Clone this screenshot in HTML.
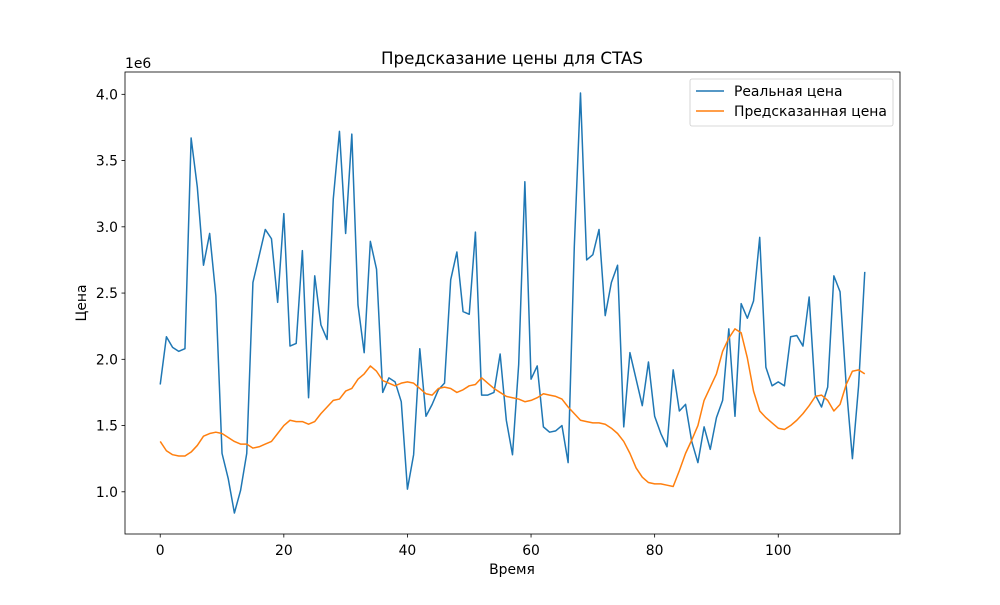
<!DOCTYPE html>
<html><head><meta charset="utf-8"><style>body{margin:0;background:#fff}svg{font-family:"DejaVu Sans","Liberation Sans",sans-serif}</style></head>
<body>
<svg id="chart" width="1000" height="600" xmlns="http://www.w3.org/2000/svg"></svg>
<script>
const realPrice=[1.81,2.17,2.09,2.06,2.08,3.67,3.30,2.71,2.95,2.48,1.29,1.10,0.84,1.01,1.29,2.58,2.78,2.98,2.91,2.43,3.10,2.10,2.12,2.82,1.71,2.63,2.26,2.15,3.21,3.72,2.95,3.70,2.41,2.05,2.89,2.68,1.75,1.86,1.83,1.68,1.02,1.28,2.08,1.57,1.66,1.77,1.82,2.60,2.81,2.36,2.34,2.96,1.73,1.73,1.75,2.04,1.54,1.28,1.96,3.34,1.85,1.95,1.49,1.45,1.46,1.50,1.22,2.85,4.01,2.75,2.79,2.98,2.33,2.58,2.71,1.49,2.05,1.85,1.65,1.98,1.57,1.44,1.34,1.92,1.61,1.66,1.38,1.22,1.49,1.32,1.56,1.69,2.23,1.57,2.42,2.31,2.44,2.92,1.94,1.80,1.83,1.80,2.17,2.18,2.10,2.47,1.73,1.64,1.79,2.63,2.51,1.80,1.25,1.80,2.66];
const predPrice=[1.38,1.31,1.28,1.27,1.27,1.30,1.35,1.42,1.44,1.45,1.44,1.41,1.38,1.36,1.36,1.33,1.34,1.36,1.38,1.44,1.50,1.54,1.53,1.53,1.51,1.53,1.59,1.64,1.69,1.70,1.76,1.78,1.85,1.89,1.95,1.91,1.84,1.82,1.80,1.82,1.83,1.82,1.78,1.74,1.73,1.78,1.79,1.78,1.75,1.77,1.80,1.81,1.86,1.82,1.78,1.75,1.72,1.71,1.70,1.68,1.69,1.71,1.74,1.73,1.72,1.70,1.64,1.59,1.54,1.53,1.52,1.52,1.51,1.48,1.44,1.38,1.29,1.18,1.11,1.07,1.06,1.06,1.05,1.04,1.16,1.29,1.39,1.50,1.69,1.79,1.89,2.06,2.16,2.23,2.20,2.01,1.76,1.61,1.56,1.52,1.48,1.47,1.50,1.54,1.59,1.65,1.72,1.73,1.69,1.61,1.66,1.81,1.91,1.92,1.89];
const xTicks=[0,20,40,60,80,100];
const yTicks=[1.0,1.5,2.0,2.5,3.0,3.5,4.0];
const NS="http://www.w3.org/2000/svg",svg=document.getElementById('chart');
const L=125,R=900,T=72,B=534;
const n=realPrice.length;
const xmin=-(n-1)*0.05,xmax=(n-1)*1.05;
const all=realPrice.concat(predPrice);let dmin=Math.min(...all),dmax=Math.max(...all),pad=(dmax-dmin)*0.05;
const ymin=dmin-pad,ymax=dmax+pad;
const sx=v=>L+(v-xmin)/(xmax-xmin)*(R-L), sy=v=>B-(v-ymin)/(ymax-ymin)*(B-T);
function el(t,a,txt){const e=document.createElementNS(NS,t);for(const k in a)e.setAttribute(k,a[k]);if(txt!==undefined)e.textContent=txt;svg.appendChild(e);return e;}
function series(data,color,name){const p=el('polyline',{points:data.map((v,i)=>sx(i)+','+sy(v)).join(' '),fill:'none',stroke:color,'stroke-width':1.5,'stroke-linejoin':'round'});

}
series(realPrice,'#1f77b4','real-price-line');
series(predPrice,'#ff7f0e','predicted-price-line');
const fr=el('rect',{x:L,y:T,width:R-L,height:B-T,fill:'none',stroke:'#000','stroke-width':0.8});


xTicks.forEach(v=>{const x=sx(v);el('line',{x1:x,x2:x,y1:B,y2:B+3.5,stroke:'#000','stroke-width':0.8});
const t=el('text',{x:x,y:B+21,'font-size':13.9,'text-anchor':'middle'},String(v));

});
yTicks.forEach(v=>{const y=sy(v);el('line',{x1:L-3.5,x2:L,y1:y,y2:y,stroke:'#000','stroke-width':0.8});
const t=el('text',{x:L-7,y:y+5,'font-size':13.9,'text-anchor':'end'},v.toFixed(1));

});
</script>
<svg style="position:absolute;left:0;top:0" width="1000" height="600" xmlns="http://www.w3.org/2000/svg">
<text x="512" y="64" font-size="16.7" text-anchor="middle">Предсказание цены для CTAS</text>
<text x="125" y="68" font-size="13.9">1e6</text>
<text x="512" y="574" font-size="13.9" text-anchor="middle">Время</text>
<text x="0" y="0" font-size="13.9" text-anchor="middle" transform="translate(86,303) rotate(-90)">Цена</text>
<g>
<rect x="690" y="79" width="203" height="47" rx="2" fill="#fff" fill-opacity="0.8" stroke="#ccc" stroke-width="0.8"/>
<line x1="696" x2="724" y1="91" y2="91" stroke="#1f77b4" stroke-width="1.5"/>
<text x="734" y="96" font-size="13.9">Реальная цена</text>
<line x1="696" x2="724" y1="111" y2="111" stroke="#ff7f0e" stroke-width="1.5"/>
<text x="734" y="116" font-size="13.9">Предсказанная цена</text>
</g>
</svg>
</body></html>
